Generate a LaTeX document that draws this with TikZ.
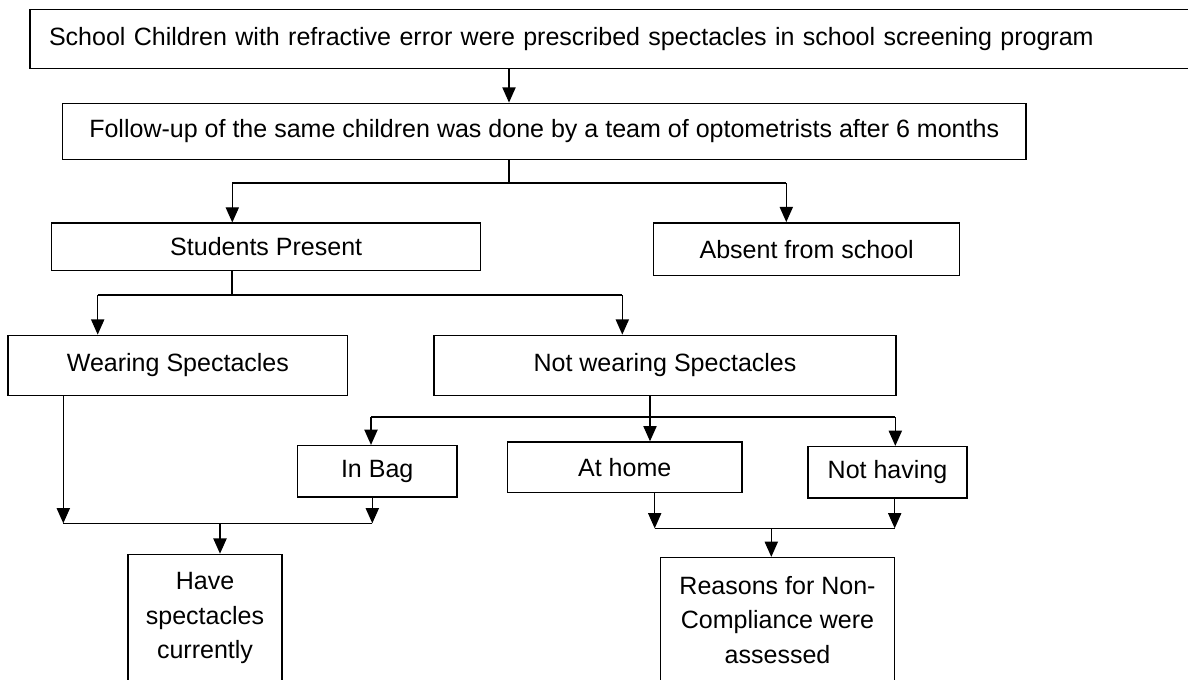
\documentclass[tikz,border=0pt]{standalone}
\usepackage{fontspec}
\setmainfont{Liberation Sans}
\usepackage{tikz}
\usetikzlibrary{arrows.meta}

\begin{document}
\begin{tikzpicture}[x=0.025cm, y=-0.025cm,
	box/.style={draw, line width=1pt, inner sep=2pt, align=center,
		font=\fontsize{17.8pt}{24.5pt}\selectfont},
	arr/.style={line width=0.9pt, -{Triangle[length=0.38cm, width=0.33cm]}},
	link/.style={line width=0.9pt}]
	\useasboundingbox (0,0) rectangle (1188,679);
	% boxes
	\node[box, anchor=west, align=left, minimum width=29.52cm, text width=28.57cm, inner xsep=0.475cm, minimum height=1.475cm] (top) at (29.3,38.8) {School Children with refractive error were prescribed spectacles in school screening program};
	\node[box, minimum width=24.08cm, minimum height=1.4cm] (follow) at (544.2,131.3) {Follow-up of the same children was done by a team of optometrists after 6 months};
	\node[box, minimum width=10.72cm, minimum height=1.18cm] (present) at (266.2,246.8) {Students Present};
	\node[box, minimum width=7.65cm, minimum height=1.32cm] (absent) at (806.7,249.2) {Absent from school};
	\node[box, minimum width=8.49cm, minimum height=1.5cm] (wearing) at (177.9,365.3) {Wearing Spectacles};
	\node[box, minimum width=11.54cm, minimum height=1.5cm] (notwearing) at (665,365.3) {Not wearing Spectacles};
	\node[box, minimum width=3.98cm, minimum height=1.28cm] (inbag) at (377.2,471.2) {In Bag};
	\node[box, minimum width=5.87cm, minimum height=1.26cm] (athome) at (624.7,467.2) {At home};
	\node[box, minimum width=3.98cm, minimum height=1.28cm] (nothaving) at (887.5,472.2) {Not having};
	\node[box, minimum width=3.84cm, minimum height=3.19cm] (have) at (205,618.2) {Have\\spectacles\\currently};
	\node[box, minimum width=5.86cm, minimum height=3.12cm] (reasons) at (777.5,620) {Reasons for Non-\\Compliance were\\assessed};
	% junctions
	\coordinate (j1) at (509,183);
	\coordinate (j1l) at (232.3,183);
	\coordinate (j1r) at (786.3,183);
	\coordinate (j2) at (232,295);
	\coordinate (j2l) at (97.7,295);
	\coordinate (j2r) at (622.3,295);
	\coordinate (j3) at (650,417);
	\coordinate (j3l) at (371,417);
	\coordinate (j3r) at (895.3,417);
	\coordinate (j4) at (220,523.3);
	\coordinate (j4l) at (63.3,523.3);
	\coordinate (j4r) at (372.3,523.3);
	\coordinate (j5) at (771.3,528.3);
	\coordinate (j5l) at (654.7,528.3);
	\coordinate (j5r) at (894.7,528.3);
	% connectors
	\draw[arr] (top.south -| j1) -- (follow.north -| j1);
	\draw[link] (follow.south -| j1) -- (j1);
	\draw[link] (j1l) -- (j1r);
	\draw[arr] (j1l) -- (present.north -| j1l);
	\draw[arr] (j1r) -- (absent.north -| j1r);
	\draw[link] (present.south -| j2) -- (j2);
	\draw[link] (j2l) -- (j2r);
	\draw[arr] (j2l) -- (wearing.north -| j2l);
	\draw[arr] (j2r) -- (notwearing.north -| j2r);
	\draw[link] (notwearing.south -| j3) -- (j3);
	\draw[link] (j3l) -- (j3r);
	\draw[arr] (j3l) -- (inbag.north -| j3l);
	\draw[arr] (j3) -- (athome.north -| j3);
	\draw[arr] (j3r) -- (nothaving.north -| j3r);
	\draw[arr] (wearing.south -| j4l) -- (j4l);
	\draw[arr] (inbag.south -| j4r) -- (j4r);
	\draw[link] (j4l) -- (j4r);
	\draw[arr] (j4) -- (have.north -| j4);
	\draw[arr] (athome.south -| j5l) -- (j5l);
	\draw[arr] (nothaving.south -| j5r) -- (j5r);
	\draw[link] (j5l) -- (j5r);
	\draw[arr] (j5) -- (reasons.north -| j5);
\end{tikzpicture}
\end{document}
